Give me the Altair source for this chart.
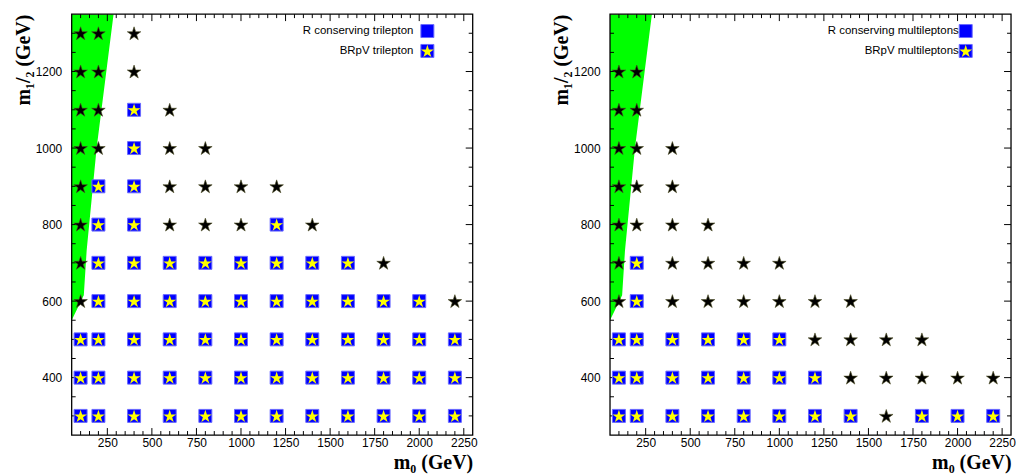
import math
import altair as alt
import pandas as pd

# ---------------- data ----------------
M0_ALL = [100, 200, 400, 600, 800, 1000, 1200, 1400, 1600, 1800, 2000, 2200]

# trilepton panel: m1/2 row -> m0 points
tri_square = {
    300: [100, 200, 400, 600, 800, 1000, 1200, 1400, 1600, 1800, 2000, 2200],
    400: [100, 200, 400, 600, 800, 1000, 1200, 1400, 1600, 1800, 2000, 2200],
    500: [100, 200, 400, 600, 800, 1000, 1200, 1400, 1600, 1800, 2000, 2200],
    600: [200, 400, 600, 800, 1000, 1200, 1400, 1600, 1800, 2000],
    700: [200, 400, 600, 800, 1000, 1200, 1400, 1600],
    800: [200, 400, 1200],
    900: [200, 400],
    1000: [400],
    1100: [400],
}
tri_star = {
    600: [100, 2200],
    700: [100, 1800],
    800: [100, 600, 800, 1000, 1400],
    900: [100, 600, 800, 1000, 1200],
    1000: [100, 200, 600, 800],
    1100: [100, 200, 600],
    1200: [100, 200, 400],
    1300: [100, 200, 400],
}

# multilepton panel
multi_square = {
    300: [100, 200, 400, 600, 800, 1000, 1200, 1400, 1800, 2000, 2200],
    400: [100, 200, 400, 600, 800, 1000, 1200],
    500: [100, 200, 400, 600, 800, 1000],
    600: [200],
    700: [200],
}
multi_star = {
    300: [1600],
    400: [1400, 1600, 1800, 2000, 2200],
    500: [1200, 1400, 1600, 1800],
    600: [100, 400, 600, 800, 1000, 1200, 1400],
    700: [100, 400, 600, 800, 1000],
    800: [100, 200, 400, 600],
    900: [100, 200, 400],
    1000: [100, 200, 400],
    1100: [100, 200],
    1200: [100, 200],
}

# excluded (green) region boundary
green_m12 = [550, 615, 732, 1000, 1350]
green_m0 = [50, 118, 134, 190, 285]

X_LABELS = [250, 500, 750, 1000, 1250, 1500, 1750, 2000, 2250]
Y_LABELS = [400, 600, 800, 1000, 1200]
X_MINOR = [v for v in range(100, 2300, 50) if v not in X_LABELS]
Y_MINOR = [v for v in range(300, 1350, 50) if v % 200 != 0]
Y_MAJOR = Y_LABELS

X_DOMAIN = [50, 2300]
Y_DOMAIN = [250, 1350]

# ---------------- style ----------------
W, H = 403, 423
SERIF = "Liberation Serif"
SANS = "Liberation Sans"


def star_path(inner=0.382):
    pts = []
    for k in range(10):
        a = math.radians(-90 + 36 * k)
        r = 1.0 if k % 2 == 0 else inner
        pts.append((r * math.cos(a), r * math.sin(a) + 0.0955))
    return "M" + " L".join(f"{x:.4f},{y:.4f}" for x, y in pts) + " Z"


STAR = star_path()


def to_df(d):
    rows = [{"m0": m0, "m12": m12} for m12, lst in d.items() for m0 in lst]
    return pd.DataFrame(rows)


def X(field="m0"):
    return alt.X(
        f"{field}:Q",
        scale=alt.Scale(domain=X_DOMAIN, nice=False, zero=False),
        axis=alt.Axis(
            values=X_LABELS, format="d", title="m₀ (GeV)", titleAnchor="end",
            domain=False, ticks=False, grid=False, labelPadding=3,
            titlePadding=4,
        ),
    )


def Y(field="m12"):
    return alt.Y(
        f"{field}:Q",
        scale=alt.Scale(domain=Y_DOMAIN, nice=False, zero=False),
        axis=alt.Axis(
            values=Y_LABELS, format="d", title="m₁/₂ (GeV)", titleAnchor="end",
            domain=False, ticks=False, grid=False, labelPadding=10,
            titlePadding=2,
        ),
    )


SQ_SIZE = 170
YSTAR_SIZE = 185
BSTAR_SIZE = 205


def panel(sq, st, lab1, lab2, text_gap):
    one = pd.DataFrame({"k": [0]})
    green = alt.Chart(pd.DataFrame({"m0": green_m0, "m12": green_m12})).mark_area(
        orient="horizontal", color="#00ff00", clip=True
    ).encode(y=Y(), x=X(), x2=alt.value(0))

    ticks = []
    for vals, L in [(X_LABELS, 7), (X_MINOR, 4)]:
        df = pd.DataFrame({"m0": vals})
        ticks.append(alt.Chart(df).mark_rule(color="black", strokeWidth=1).encode(
            x=X(), y=alt.value(H), y2=alt.value(H - L)))
        ticks.append(alt.Chart(df).mark_rule(color="black", strokeWidth=1).encode(
            x=X(), y=alt.value(0), y2=alt.value(L)))
    for vals, L in [(Y_MAJOR, 7), (Y_MINOR, 4)]:
        df = pd.DataFrame({"m12": vals})
        ticks.append(alt.Chart(df).mark_rule(color="black", strokeWidth=1).encode(
            y=Y(), x=alt.value(0), x2=alt.value(L)))
        ticks.append(alt.Chart(df).mark_rule(color="black", strokeWidth=1).encode(
            y=Y(), x=alt.value(W), x2=alt.value(W - L)))

    sqdf = to_df(sq)
    stdf = to_df(st)
    squares = alt.Chart(sqdf).mark_point(
        shape="square", filled=True, fill="#0000ff", stroke="#6a6aff",
        strokeWidth=1, size=SQ_SIZE, opacity=1
    ).encode(x=X(), y=Y())
    ystars = alt.Chart(sqdf).mark_point(
        shape=STAR, filled=True, fill="#ffff00", strokeWidth=0, size=YSTAR_SIZE, opacity=1
    ).encode(x=X(), y=Y())
    bstars = alt.Chart(stdf).mark_point(
        shape=STAR, filled=True, fill="black", stroke="#4a4a20",
        strokeWidth=0.6, size=BSTAR_SIZE, opacity=1
    ).encode(x=X(), y=Y())

    lx = W * 0.887
    ly1, ly2 = 17, 37
    leg = [
        alt.Chart(one).mark_point(shape="square", filled=True, fill="#0000ff",
                                  stroke="#6a6aff", strokeWidth=1, size=SQ_SIZE, opacity=1)
        .encode(x=alt.value(lx), y=alt.value(ly1)),
        alt.Chart(one).mark_point(shape="square", filled=True, fill="#0000ff",
                                  stroke="#6a6aff", strokeWidth=1, size=SQ_SIZE, opacity=1)
        .encode(x=alt.value(lx), y=alt.value(ly2)),
        alt.Chart(one).mark_point(shape=STAR, filled=True, fill="#ffff00",
                                  strokeWidth=0, size=YSTAR_SIZE, opacity=1)
        .encode(x=alt.value(lx), y=alt.value(ly2)),
        alt.Chart(one).mark_text(text=lab1, align="right", baseline="middle",
                                 font=SANS, fontSize=11.5, color="black")
        .encode(x=alt.value(lx - text_gap), y=alt.value(ly1)),
        alt.Chart(one).mark_text(text=lab2, align="right", baseline="middle",
                                 font=SANS, fontSize=11.5, color="black")
        .encode(x=alt.value(lx - text_gap), y=alt.value(ly2)),
    ]
    frame = alt.Chart(one).mark_rect(fill="transparent", stroke="black", strokeWidth=1.3).encode(
        x=alt.value(0), x2=alt.value(W), y=alt.value(0), y2=alt.value(H))

    return alt.layer(green, *ticks, squares, ystars, bstars, *leg, frame).properties(
        width=W, height=H)


left = panel(tri_square, tri_star, "R conserving trilepton", "BRpV trilepton", 14)
right = panel(multi_square, multi_star, "R conserving multileptons", "BRpV multileptons", 7)

chart = alt.hconcat(left, right, spacing=74).properties(
    padding={"left": 5, "top": 4, "right": 0, "bottom": 0}
).configure_view(strokeWidth=0).configure_axis(
    labelFont=SANS, labelFontSize=12, labelColor="black",
    titleFont=SERIF, titleFontSize=20, titleFontWeight="bold", titleColor="black",
)

chart.save("out.html", embed_options={"renderer": "svg", "actions": False})
